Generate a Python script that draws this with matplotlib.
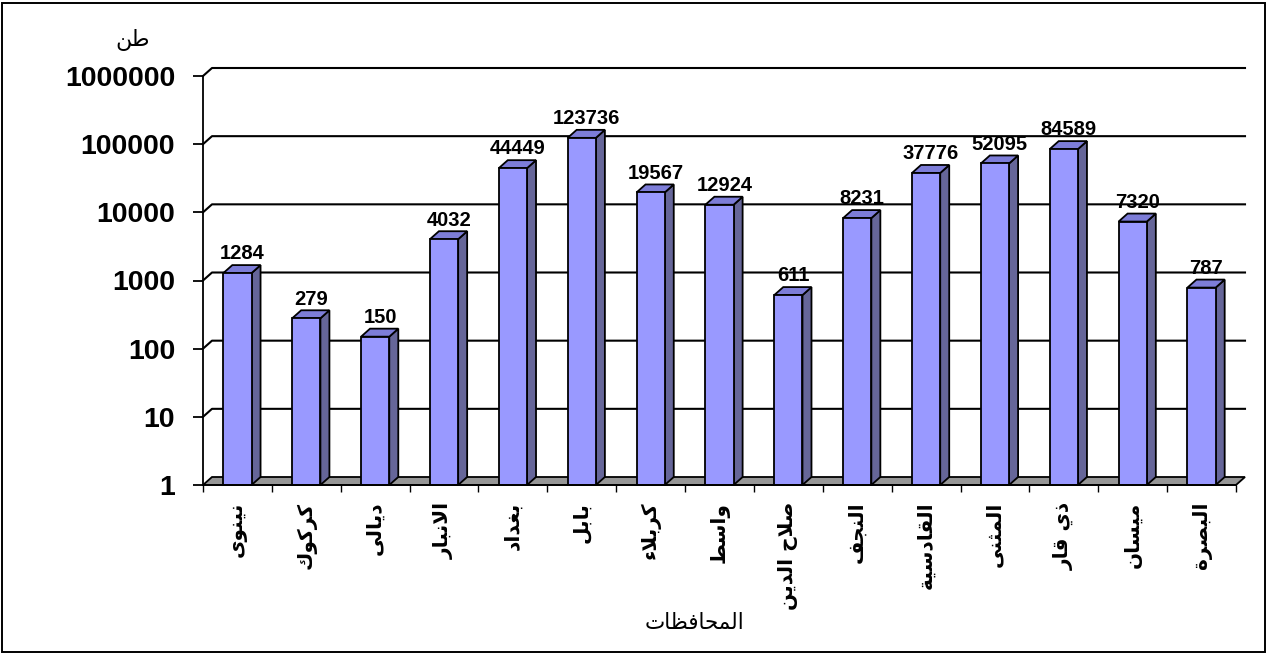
#!/usr/bin/env python3
"""
3D-style log bar chart: tonnes per governorate
"""
import matplotlib
matplotlib.use('Agg')
import matplotlib.pyplot as plt
from matplotlib.patches import Polygon, Rectangle
from matplotlib.lines import Line2D
from matplotlib.ticker import NullLocator
from matplotlib.transforms import IdentityTransform
import numpy as np

# data
provinces = ['نينوى', 'كركوك', 'ديالى', 'الانبار', 'بغداد', 'بابل', 'كربلاء', 'واسط',
             'صلاح الدين', 'النجف', 'القادسية', 'المثنى', 'ذي قار', 'ميسان', 'البصرة']
tonnes = [1284, 279, 150, 4032, 44449, 123736, 19567, 12924, 611, 8231, 37776, 52095,
          84589, 7320, 787]
y_ticks = [1, 10, 100, 1000, 10000, 100000, 1000000]
unit_label = 'طن'
x_title = 'المحافظات'

# simple arabic shaping (matplotlib has no bidi / joining)
DUAL = {'ب': 0xFE8F, 'ت': 0xFE95, 'ث': 0xFE99, 'ج': 0xFE9D, 'ح': 0xFEA1, 'خ': 0xFEA5,
        'س': 0xFEB1, 'ش': 0xFEB5, 'ص': 0xFEB9, 'ض': 0xFEBD, 'ط': 0xFEC1, 'ظ': 0xFEC5,
        'ع': 0xFEC9, 'غ': 0xFECD, 'ف': 0xFED1, 'ق': 0xFED5, 'ك': 0xFED9, 'ل': 0xFEDD,
        'م': 0xFEE1, 'ن': 0xFEE5, 'ه': 0xFEE9, 'ي': 0xFEF1}
RIGHT = {'ا': 0xFE8D, 'أ': 0xFE83, 'إ': 0xFE87, 'آ': 0xFE81, 'ة': 0xFE93, 'د': 0xFEA9,
         'ذ': 0xFEAB, 'ر': 0xFEAD, 'ز': 0xFEAF, 'و': 0xFEED, 'ى': 0xFEEF,
         'لا': 0xFEFB, 'لأ': 0xFEF7}


def shape(text):
    toks = []
    i = 0
    while i < len(text):
        if text[i] == 'ل' and i + 1 < len(text) and text[i + 1] in 'اأ':
            toks.append(text[i:i + 2])
            i += 2
        else:
            toks.append(text[i])
            i += 1
    out = []
    for k, t in enumerate(toks):
        prev = toks[k - 1] if k > 0 else None
        nxt = toks[k + 1] if k + 1 < len(toks) else None
        jp = prev in DUAL and (t in DUAL or t in RIGHT)
        if t in DUAL:
            jn = nxt is not None and (nxt in DUAL or nxt in RIGHT)
            off = {(False, False): 0, (True, False): 1, (False, True): 2, (True, True): 3}[(jp, jn)]
            out.append(chr(DUAL[t] + off))
        elif t in RIGHT:
            out.append(chr(RIGHT[t] + (1 if jp else 0)))
        else:
            out.append(t)
    return ''.join(reversed(out))


plt.rcParams['font.family'] = ['Liberation Sans', 'DejaVu Sans']

W, H = 1269, 655
fig = plt.figure(figsize=(W / 100, H / 100), dpi=100)
ax = fig.add_axes([203 / W, 1 - 485 / H, (1236 - 203) / W, (485 - 76) / H])
ax.set_yscale('log')
ax.set_ylim(1, 1e6)
ax.set_xlim(-0.5, 14.5)

DX, DY = 9, 8  # depth offset in pixels
LW = 1.3
bar_w = 0.41


def pt(x, y, back=False):
    px, py = ax.transData.transform((x, y))
    return (px + DX, py + DY) if back else (px, py)


def poly(pts, fc, z):
    ax.add_artist(Polygon(pts, closed=True, transform=IdentityTransform(), fc=fc,
                          ec='black', lw=LW, clip_on=False, zorder=z, joinstyle='miter'))


# back wall gridlines
for v in y_ticks[1:]:
    a, b, c = pt(-0.5, v), pt(-0.5, v, True), pt(14.5, v, True)
    ax.add_artist(Line2D([a[0], b[0], c[0]], [a[1], b[1], c[1]], color='black', lw=1.5,
                         transform=IdentityTransform(), clip_on=False, zorder=0.5))

# floor
poly([pt(-0.5, 1), pt(14.5, 1), pt(14.5, 1, True), pt(-0.5, 1, True)], '#969696', 1)

# bars
for i, v in enumerate(tonnes):
    x0, x1 = i - bar_w / 2, i + bar_w / 2
    poly([pt(x1, 1), pt(x1, 1, True), pt(x1, v, True), pt(x1, v)], '#666699', 2)
    poly([pt(x0, v), pt(x1, v), pt(x1, v, True), pt(x0, v, True)], '#7d7dd8', 2)
    poly([pt(x0, 1), pt(x1, 1), pt(x1, v), pt(x0, v)], '#9999ff', 2)
    ax.annotate(str(v), (i, v), xytext=(3.5, 7), textcoords='offset points',
                ha='center', va='bottom', fontsize=14.5, fontweight='bold', zorder=3)

# axes styling
ax.spines['top'].set_visible(False)
ax.spines['right'].set_visible(False)
ax.spines['left'].set_linewidth(LW)
ax.spines['bottom'].set_linewidth(LW)
ax.set_facecolor('none')

ax.set_yticks(y_ticks, [str(v) for v in y_ticks])
ax.yaxis.set_minor_locator(NullLocator())
ax.tick_params(axis='y', which='major', length=7, width=LW, pad=13, labelsize=20.5)
for lbl in ax.get_yticklabels():
    lbl.set_fontweight('bold')

ax.set_xticks(np.arange(-0.5, 15, 1))
ax.set_xticklabels([])
ax.tick_params(axis='x', which='major', length=5, width=1)
ax.set_xticks(range(len(provinces)), [shape(p) for p in provinces], minor=True)
ax.tick_params(axis='x', which='minor', length=0, pad=12, labelsize=14.5, labelrotation=90)
for lbl in ax.get_xticklabels(minor=True):
    lbl.set_fontweight('bold')
    lbl.set_family('DejaVu Sans')

fig.text(694 / W, 1 - 623 / H, shape(x_title), ha='center', va='center', fontsize=15.5,
         family='DejaVu Sans')
fig.text(133 / W, 1 - 40 / H, shape(unit_label), ha='center', va='center', fontsize=16,
         family='DejaVu Sans')

# outer frame
fig.add_artist(Rectangle((2 / W, 3 / H), 1263 / W, 649 / H, transform=fig.transFigure,
                         fill=False, ec='black', lw=1.4))

fig.savefig('out.png', dpi=100)
print("saved out.png")
